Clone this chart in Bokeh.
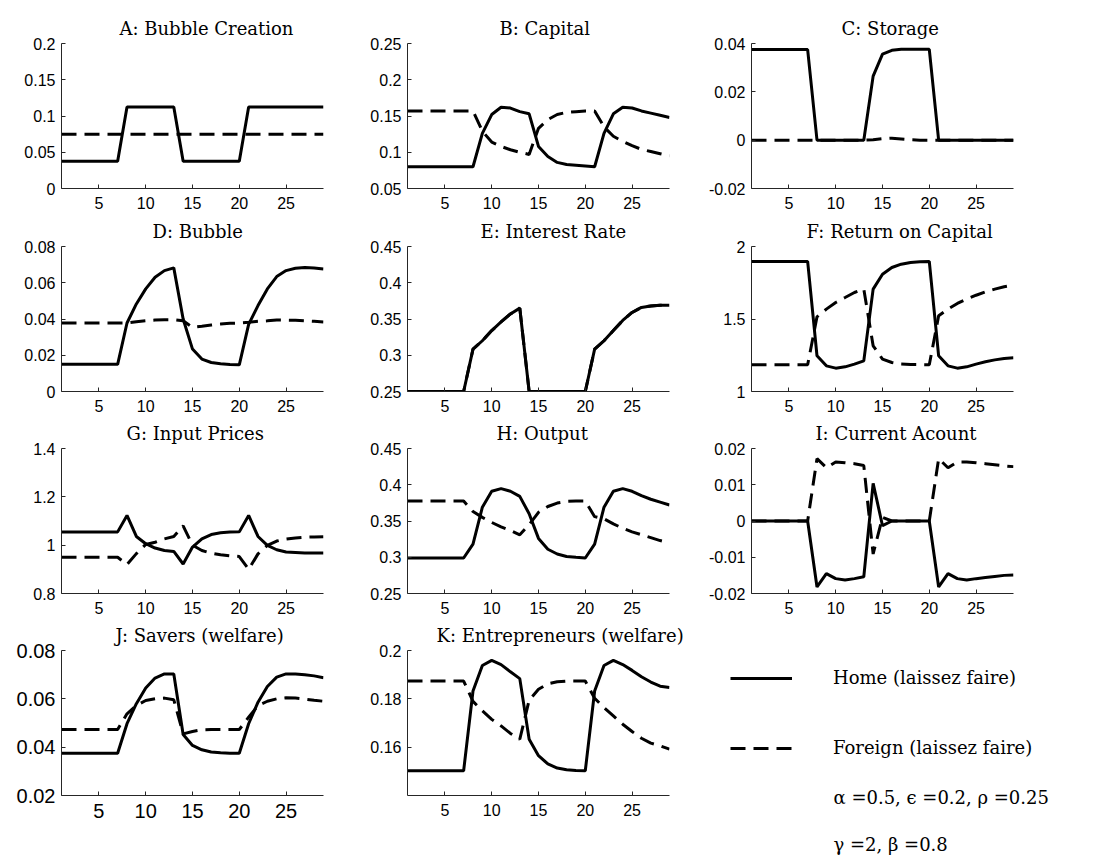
from bokeh.plotting import figure
from bokeh.layouts import column, row
from bokeh.models import FixedTicker, Range1d, Legend, LegendItem, Label
from bokeh.embed import file_html
from bokeh.resources import INLINE

# ---------------------------------------------------------------- data
periods = list(range(1, 30))
x_ticks = [5, 10, 15, 20, 25]

bubble_creation_home = [0.0375, 0.0375, 0.0375, 0.0375, 0.0375, 0.0375, 0.0375, 0.1125, 0.1125, 0.1125,
                        0.1125, 0.1125, 0.1125, 0.0375, 0.0375, 0.0375, 0.0375, 0.0375, 0.0375, 0.0375,
                        0.1125, 0.1125, 0.1125, 0.1125, 0.1125, 0.1125, 0.1125, 0.1125, 0.1125]
bubble_creation_foreign = [0.075, 0.075, 0.075, 0.075, 0.075, 0.075, 0.075, 0.075, 0.075, 0.075,
                           0.075, 0.075, 0.075, 0.075, 0.075, 0.075, 0.075, 0.075, 0.075, 0.075,
                           0.075, 0.075, 0.075, 0.075, 0.075, 0.075, 0.075, 0.075, 0.075]

capital_home = [0.080, 0.080, 0.080, 0.080, 0.080, 0.080, 0.080, 0.080, 0.126, 0.152,
                0.162, 0.161, 0.156, 0.153, 0.108, 0.094, 0.086, 0.083, 0.082, 0.081,
                0.080, 0.126, 0.153, 0.162, 0.161, 0.157, 0.154, 0.151, 0.148]
capital_foreign = [0.157, 0.157, 0.157, 0.157, 0.157, 0.157, 0.157, 0.157, 0.129, 0.114,
                   0.108, 0.1035, 0.100, 0.097, 0.133, 0.145, 0.152, 0.155, 0.156, 0.157,
                   0.157, 0.135, 0.122, 0.115, 0.109, 0.104, 0.101, 0.098, 0.095]

storage_home = [0.0375, 0.0375, 0.0375, 0.0375, 0.0375, 0.0375, 0.0375, 0.0, 0.0, 0.0,
                0.0, 0.0, 0.0, 0.0265, 0.0356, 0.0372, 0.0376, 0.0376, 0.0376, 0.0376,
                0.0, 0.0, 0.0, 0.0, 0.0, 0.0, 0.0, 0.0, 0.0]
storage_foreign = [0.0, 0.0, 0.0, 0.0, 0.0, 0.0, 0.0, 0.0, 0.0, 0.0,
                   0.0, 0.0, 0.0, 0.0002, 0.0006, 0.0008, 0.0005, 0.0002, 0.0, 0.0,
                   0.0, 0.0, 0.0, 0.0, 0.0, 0.0, 0.0, 0.0, 0.0]

bubble_home = [0.015, 0.015, 0.015, 0.015, 0.015, 0.015, 0.015, 0.0378, 0.0483, 0.0566,
               0.063, 0.0667, 0.0682, 0.040, 0.0234, 0.0179, 0.016, 0.0153, 0.0149, 0.0147,
               0.037, 0.0474, 0.0566, 0.0634, 0.0667, 0.068, 0.0684, 0.0682, 0.0676]
bubble_foreign = [0.0378, 0.0378, 0.0378, 0.0378, 0.0378, 0.0378, 0.0378, 0.0378, 0.0385, 0.039,
                  0.0394, 0.0396, 0.0396, 0.039, 0.0354, 0.036, 0.0367, 0.0372, 0.0376, 0.0378,
                  0.0382, 0.0387, 0.039, 0.0394, 0.0394, 0.0393, 0.039, 0.0387, 0.0383]

interest_home = [0.25, 0.25, 0.25, 0.25, 0.25, 0.25, 0.25, 0.3085, 0.32, 0.334,
                 0.346, 0.357, 0.365, 0.25, 0.25, 0.25, 0.25, 0.25, 0.25, 0.25,
                 0.3085, 0.32, 0.334, 0.348, 0.359, 0.366, 0.368, 0.369, 0.369]
interest_foreign = [0.25, 0.25, 0.25, 0.25, 0.25, 0.25, 0.25, 0.3085, 0.32, 0.334,
                    0.346, 0.357, 0.365, 0.25, 0.25, 0.25, 0.25, 0.25, 0.25, 0.25,
                    0.3085, 0.32, 0.334, 0.348, 0.359, 0.366, 0.368, 0.369, 0.369]

return_home = [1.897, 1.897, 1.897, 1.897, 1.897, 1.897, 1.897, 1.246, 1.177, 1.161,
               1.17, 1.189, 1.211, 1.706, 1.809, 1.855, 1.878, 1.89, 1.894, 1.897,
               1.246, 1.177, 1.161, 1.17, 1.189, 1.205, 1.218, 1.228, 1.232]
return_foreign = [1.184, 1.184, 1.184, 1.184, 1.184, 1.184, 1.184, 1.515, 1.568, 1.614,
                  1.648, 1.683, 1.706, 1.315, 1.223, 1.2, 1.189, 1.186, 1.185, 1.184,
                  1.522, 1.568, 1.607, 1.637, 1.664, 1.687, 1.706, 1.722, 1.733]

input_price_home = [1.055, 1.055, 1.055, 1.055, 1.055, 1.055, 1.055, 1.123, 1.036, 1.006,
                    0.988, 0.978, 0.974, 0.922, 0.992, 1.026, 1.044, 1.051, 1.054, 1.055,
                    1.123, 1.036, 0.999, 0.981, 0.972, 0.97, 0.968, 0.968, 0.968]
input_price_foreign = [0.95, 0.95, 0.95, 0.95, 0.95, 0.95, 0.95, 0.92, 0.965, 1.003,
                       1.012, 1.026, 1.036, 1.08, 1.0, 0.978, 0.967, 0.96, 0.956, 0.953,
                       0.9, 0.964, 0.999, 1.017, 1.025, 1.03, 1.033, 1.034, 1.035]

output_home = [0.299, 0.299, 0.299, 0.299, 0.299, 0.299, 0.299, 0.318, 0.369, 0.391,
               0.3946, 0.391, 0.384, 0.36, 0.326, 0.311, 0.3045, 0.301, 0.2999, 0.299,
               0.318, 0.369, 0.391, 0.3946, 0.391, 0.385, 0.38, 0.376, 0.372]
output_foreign = [0.3775, 0.3775, 0.3775, 0.3775, 0.3775, 0.3775, 0.3775, 0.363, 0.355, 0.348,
                  0.342, 0.337, 0.331, 0.345, 0.362, 0.37, 0.3747, 0.377, 0.3775, 0.3775,
                  0.356, 0.353, 0.346, 0.340, 0.335, 0.331, 0.327, 0.323, 0.32]

current_account_home = [0.0, 0.0, 0.0, 0.0, 0.0, 0.0, 0.0, -0.0182, -0.0145, -0.0159,
                        -0.0163, -0.0159, -0.0154, 0.0104, -0.0013, 0.0, 0.0, 0.0, 0.0, 0.0,
                        -0.0182, -0.0145, -0.0159, -0.0163, -0.0159, -0.0156, -0.0153, -0.015, -0.0149]
current_account_foreign = [0.0, 0.0, 0.0, 0.0, 0.0, 0.0, 0.0, 0.0172, 0.0147, 0.0163,
                           0.0161, 0.0158, 0.0153, -0.0091, 0.001, 0.0, 0.0, 0.0, 0.0, 0.0,
                           0.0172, 0.0147, 0.0163, 0.0163, 0.0161, 0.0158, 0.0155, 0.0152, 0.015]

savers_home = [0.0375, 0.0375, 0.0375, 0.0375, 0.0375, 0.0375, 0.0375, 0.0497, 0.058, 0.0645,
               0.0686, 0.0703, 0.0703, 0.0452, 0.0407, 0.0389, 0.038, 0.0377, 0.0375, 0.0375,
               0.0497, 0.0586, 0.0651, 0.069, 0.0703, 0.0703, 0.07, 0.0695, 0.0687]
savers_foreign = [0.0473, 0.0473, 0.0473, 0.0473, 0.0473, 0.0473, 0.0473, 0.0538, 0.0572, 0.0593,
                  0.06, 0.0603, 0.0596, 0.0455, 0.0465, 0.0472, 0.0473, 0.0473, 0.0473, 0.0473,
                  0.0524, 0.0572, 0.059, 0.06, 0.0604, 0.0603, 0.0599, 0.0594, 0.059]

entrepreneurs_home = [0.1504, 0.1504, 0.1504, 0.1504, 0.1504, 0.1504, 0.1504, 0.1833, 0.1938, 0.1959,
                      0.1942, 0.1912, 0.1884, 0.1634, 0.1566, 0.1532, 0.1515, 0.1508, 0.1505, 0.1504,
                      0.1833, 0.1938, 0.1959, 0.1942, 0.1918, 0.1892, 0.187, 0.1853, 0.1847]
entrepreneurs_foreign = [0.1874, 0.1874, 0.1874, 0.1874, 0.1874, 0.1874, 0.1874, 0.179, 0.1751, 0.1716,
                         0.1689, 0.1658, 0.1634, 0.1795, 0.184, 0.1863, 0.1871, 0.1874, 0.1874, 0.1874,
                         0.1803, 0.1764, 0.173, 0.1696, 0.1666, 0.1638, 0.1618, 0.1607, 0.1593]

# y ticks and their labels, one pair per panel
ticks_a = [0, 0.05, 0.1, 0.15, 0.2]
labels_a = ["0", "0.05", "0.1", "0.15", "0.2"]
ticks_b = [0.05, 0.1, 0.15, 0.2, 0.25]
labels_b = ["0.05", "0.1", "0.15", "0.2", "0.25"]
ticks_c = [-0.02, 0, 0.02, 0.04]
labels_c = ["-0.02", "0", "0.02", "0.04"]
ticks_d = [0, 0.02, 0.04, 0.06, 0.08]
labels_d = ["0", "0.02", "0.04", "0.06", "0.08"]
ticks_e = [0.25, 0.3, 0.35, 0.4, 0.45]
labels_e = ["0.25", "0.3", "0.35", "0.4", "0.45"]
ticks_f = [1, 1.5, 2]
labels_f = ["1", "1.5", "2"]
ticks_g = [0.8, 1, 1.2, 1.4]
labels_g = ["0.8", "1", "1.2", "1.4"]
ticks_h = [0.25, 0.3, 0.35, 0.4, 0.45]
labels_h = ["0.25", "0.3", "0.35", "0.4", "0.45"]
ticks_i = [-0.02, -0.01, 0, 0.01, 0.02]
labels_i = ["-0.02", "-0.01", "0", "0.01", "0.02"]
ticks_j = [0.02, 0.04, 0.06, 0.08]
labels_j = ["0.02", "0.04", "0.06", "0.08"]
ticks_k = [0.16, 0.18, 0.2]
labels_k = ["0.16", "0.18", "0.2"]

legend_labels = ["Home (laissez faire)", "Foreign (laissez faire)"]
parameter_lines = ["α =0.5, ϵ =0.2, ρ =0.25", "γ =2, β =0.8"]

# ---------------------------------------------------------------- styling
AXIS_COLOR = "#262626"
SERIF = "DejaVu Serif"
TICK_FONT = "Liberation Sans"
LINE_W = 3
DASH = "15 8"

FRAME_W, FRAME_H = 262, 145
BORDER_LEFT = 61
BORDER_RIGHT = [23, 21, 101]
BORDER_TOP = [43, 32, 32, 32]
BORDER_BOTTOM = [26, 25, 25, 65]


def panel(title, title_shift, home, foreign, y_lo, y_hi, yt, yl, col, rw, tick_size="16px"):
    p = figure(frame_width=FRAME_W, frame_height=FRAME_H,
               min_border_left=BORDER_LEFT, min_border_right=BORDER_RIGHT[col],
               min_border_top=BORDER_TOP[rw], min_border_bottom=BORDER_BOTTOM[rw],
               x_range=Range1d(1, 29), y_range=Range1d(y_lo, y_hi),
               toolbar_location=None, output_backend="svg", title=title)
    p.title.text_font = SERIF
    p.title.text_font_size = "18px"
    p.title.text_font_style = "normal"
    p.title.text_color = "black"
    p.title.align = "left"
    p.title.offset = title_shift
    p.title.standoff = 9

    p.grid.visible = False
    p.outline_line_color = None
    p.background_fill_color = "white"
    p.border_fill_color = "white"

    for ax in (p.xaxis[0], p.yaxis[0]):
        ax.axis_line_color = AXIS_COLOR
        ax.axis_line_width = 1
        ax.major_tick_line_color = AXIS_COLOR
        ax.major_tick_in = 4
        ax.major_tick_out = 0
        ax.minor_tick_in = 0
        ax.minor_tick_out = 0
        ax.major_label_text_font = TICK_FONT
        ax.major_label_text_font_size = tick_size
        ax.major_label_text_color = "black"

    p.xaxis.ticker = FixedTicker(ticks=x_ticks)
    p.xaxis.major_label_standoff = 8
    p.yaxis.ticker = FixedTicker(ticks=yt)
    p.yaxis.major_label_overrides = {t: s for t, s in zip(yt, yl)}
    p.yaxis.major_label_standoff = 6

    p.line(periods, foreign, line_width=LINE_W, line_color="black", line_dash=DASH)
    p.line(periods, home, line_width=LINE_W, line_color="black")
    return p


pa = panel("A: Bubble Creation", 58, bubble_creation_home, bubble_creation_foreign,
           0, 0.2, ticks_a, labels_a, 0, 0)
pb = panel("B: Capital", 92, capital_home, capital_foreign,
           0.05, 0.25, ticks_b, labels_b, 1, 0)
pc = panel("C: Storage", 90, storage_home, storage_foreign,
           -0.02, 0.04, ticks_c, labels_c, 2, 0)
pd = panel("D: Bubble", 91, bubble_home, bubble_foreign,
           0, 0.08, ticks_d, labels_d, 0, 1)
pe = panel("E: Interest Rate", 73, interest_home, interest_foreign,
           0.25, 0.45, ticks_e, labels_e, 1, 1)
pf = panel("F: Return on Capital", 55, return_home, return_foreign,
           1, 2, ticks_f, labels_f, 2, 1)
pg = panel("G: Input Prices", 65, input_price_home, input_price_foreign,
           0.8, 1.4, ticks_g, labels_g, 0, 2)
ph = panel("H: Output", 89, output_home, output_foreign,
           0.25, 0.45, ticks_h, labels_h, 1, 2)
pi = panel("I: Current Acount", 64, current_account_home, current_account_foreign,
           -0.02, 0.02, ticks_i, labels_i, 2, 2)
pj = panel("J: Savers (welfare)", 54, savers_home, savers_foreign,
           0.02, 0.08, ticks_j, labels_j, 0, 3, tick_size="20px")
pk = panel("K: Entrepreneurs (welfare)", 29, entrepreneurs_home, entrepreneurs_foreign,
           0.1402, 0.2, ticks_k, labels_k, 1, 3)

# ---------------------------------------------------------------- key cell
key = figure(frame_width=424, frame_height=210,
             min_border_left=0, min_border_right=0, min_border_top=32, min_border_bottom=0,
             x_range=Range1d(0, 1), y_range=Range1d(0, 1),
             x_axis_type=None, y_axis_type=None,
             toolbar_location=None, output_backend="svg")
key.title = None
key.grid.visible = False
key.outline_line_color = None
# line styles for the key, carried by hidden copies of the last panel's lines
key_home = key.line(periods, entrepreneurs_home, line_width=LINE_W, line_color="black", visible=False)
key_foreign = key.line(periods, entrepreneurs_foreign, line_width=LINE_W, line_color="black",
                       line_dash=DASH, visible=False)
legend = Legend(items=[LegendItem(label=legend_labels[0], renderers=[key_home]),
                       LegendItem(label=legend_labels[1], renderers=[key_foreign])],
                location=(40, 102), glyph_width=62, glyph_height=20, label_height=20,
                label_standoff=41, spacing=49, padding=10, margin=0,
                border_line_color=None, background_fill_alpha=0,
                label_text_font=SERIF, label_text_font_size="18px", label_text_color="black")
key.add_layout(legend)
key.add_layout(Label(x=143, y=63, x_units="screen", y_units="screen",
                     text=parameter_lines[0], text_baseline="middle", text_color="black",
                     text_font=SERIF, text_font_size="18px"))
key.add_layout(Label(x=143, y=16, x_units="screen", y_units="screen",
                     text=parameter_lines[1], text_baseline="middle", text_color="black",
                     text_font=SERIF, text_font_size="18px"))

layout = column(row(pa, pb, pc), row(pd, pe, pf), row(pg, ph, pi), row(pj, pk, key))

open("out.html", "w").write(file_html(layout, INLINE))
